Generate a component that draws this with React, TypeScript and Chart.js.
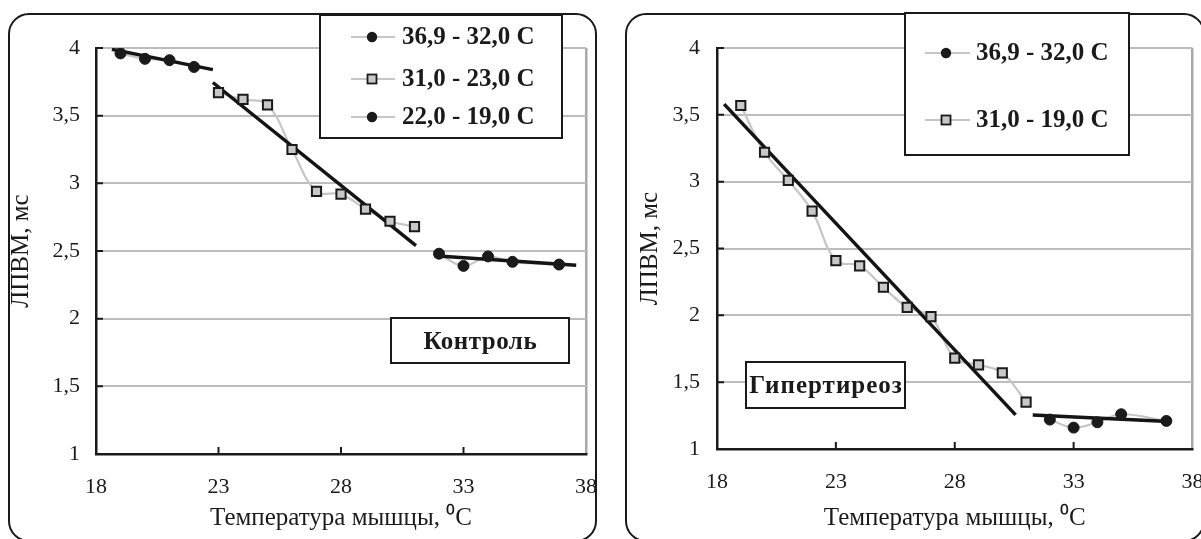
import React, { useEffect, useRef } from 'react';
import { Chart, registerables } from 'chart.js';

Chart.register(...registerables);

// ---------- axes ----------
const xTickValues = [18, 23, 28, 33, 38];
const xTickLabels = ['18', '23', '28', '33', '38'];
const yTickValues = [1, 1.5, 2, 2.5, 3, 3.5, 4];
const yTickLabels = ['1', '1,5', '2', '2,5', '3', '3,5', '4'];
const xTitle = 'Температура мышцы, ⁰C';
const yTitle = 'ЛПВМ, мс';

// ---------- Контроль ----------
const ctrlTag = 'Контроль';
const ctrlHotLabel = '36,9 - 32,0 C';
const ctrlHotX = [32, 33, 34, 35, 36.9];
const ctrlHotY = [2.48, 2.39, 2.46, 2.42, 2.4];
const ctrlMidLabel = '31,0 - 23,0 C';
const ctrlMidX = [23, 24, 25, 26, 27, 28, 29, 30, 31];
const ctrlMidY = [3.67, 3.62, 3.58, 3.25, 2.94, 2.92, 2.81, 2.72, 2.68];
const ctrlColdLabel = '22,0 - 19,0 C';
const ctrlColdX = [19, 20, 21, 22];
const ctrlColdY = [3.96, 3.92, 3.91, 3.86];
const ctrlTrendColdX = [18.65, 22.77];
const ctrlTrendColdY = [3.99, 3.84];
const ctrlTrendMidX = [22.77, 31.06];
const ctrlTrendMidY = [3.745, 2.54];
const ctrlTrendHotX = [31.8, 37.6];
const ctrlTrendHotY = [2.465, 2.395];

// ---------- Гипертиреоз ----------
const hypTag = 'Гипертиреоз';
const hypHotLabel = '36,9 - 32,0 C';
const hypHotX = [32, 33, 34, 35, 36.9];
const hypHotY = [1.22, 1.16, 1.2, 1.26, 1.21];
const hypColdLabel = '31,0 - 19,0 C';
const hypColdX = [19, 20, 21, 22, 23, 24, 25, 26, 27, 28, 29, 30, 31];
const hypColdY = [3.57, 3.22, 3.01, 2.78, 2.41, 2.37, 2.21, 2.06, 1.99, 1.68, 1.63, 1.57, 1.35];
const hypTrendColdX = [18.3, 30.56];
const hypTrendColdY = [3.58, 1.255];
const hypTrendHotX = [31.28, 37.0];
const hypTrendHotY = [1.255, 1.205];

// ---------- styling ----------
const H = 539;
const FONT = '"Liberation Serif", "Times New Roman", serif';
const INK = '#1a1a1a';
const GRID = '#bdbdbd';
const CURVE = '#c6c6c6';
const SQUARE_FILL = '#c8c8c8';

type Marker = 'circle' | 'rect';
type Series = { label: string; xs: number[]; ys: number[]; marker: Marker };
type Trend = { xs: number[]; ys: number[] };
type Box = { x0: number; y0: number; x1: number; y1: number };
type PanelCfg = {
  left: number;
  width: number;
  area: { left: number; top: number; right: number; bottom: number };
  yTickPad: number;
  yTitlePad: number;
  outer: Box & { r: number };
  legend: Box & { rows: number[]; lineX0: number; lineX1: number; markX: number; textX: number };
  legendSeries: Series[];
  series: Series[];
  trends: Trend[];
  tag: Box & { text: string; spacing: number };
};

const toPts = (xs: number[], ys: number[]) => xs.map((x, i) => ({ x, y: ys[i] }));

function buildDatasets(series: Series[], trends: Trend[]) {
  const ds: any[] = [];
  series.forEach((s) => {
    const data = toPts(s.xs, s.ys);
    const rect = s.marker === 'rect';
    ds.push({
      label: s.label,
      data,
      showLine: false,
      pointStyle: s.marker,
      pointRadius: rect ? 6.5 : 5.5,
      pointBackgroundColor: rect ? SQUARE_FILL : INK,
      pointBorderColor: INK,
      pointBorderWidth: rect ? 2 : 1,
      order: 0,
    });
    ds.push({
      label: '',
      data,
      showLine: true,
      borderColor: CURVE,
      borderWidth: 2.2,
      tension: 0.4,
      pointRadius: 0,
      order: 2,
    });
  });
  trends.forEach((t) => {
    ds.push({
      label: '',
      data: toPts(t.xs, t.ys),
      showLine: true,
      borderColor: '#141414',
      borderWidth: 3.5,
      pointRadius: 0,
      tension: 0,
      order: 1,
    });
  });
  return ds;
}

function drawMarker(ctx: CanvasRenderingContext2D, m: Marker, x: number, y: number) {
  ctx.save();
  if (m === 'circle') {
    ctx.fillStyle = INK;
    ctx.beginPath();
    ctx.arc(x, y, 5.2, 0, Math.PI * 2);
    ctx.fill();
  } else {
    ctx.fillStyle = SQUARE_FILL;
    ctx.strokeStyle = INK;
    ctx.lineWidth = 1.8;
    ctx.fillRect(x - 4.5, y - 4.5, 9, 9);
    ctx.strokeRect(x - 4.5, y - 4.5, 9, 9);
  }
  ctx.restore();
}

function decor(p: PanelCfg) {
  return {
    id: 'decor',
    beforeDatasetsDraw(chart: any) {
      const { ctx, chartArea: a, scales } = chart;
      ctx.save();
      ctx.strokeStyle = INK;
      ctx.lineWidth = 2;
      ctx.beginPath();
      xTickValues.forEach((v) => {
        if (v <= 18 || v >= 38) return;
        const px = scales.x.getPixelForValue(v);
        ctx.moveTo(px, a.bottom);
        ctx.lineTo(px, a.bottom - 7);
      });
      yTickValues.forEach((v) => {
        if (v <= 1) return;
        const py = scales.y.getPixelForValue(v);
        ctx.moveTo(a.left, py);
        ctx.lineTo(a.left + 7, py);
      });
      ctx.stroke();
      ctx.restore();
    },
    afterDraw(chart: any) {
      const ctx: CanvasRenderingContext2D = chart.ctx;
      ctx.save();
      // outer rounded frame
      const o = p.outer;
      ctx.strokeStyle = INK;
      ctx.lineWidth = 2;
      ctx.beginPath();
      ctx.roundRect(o.x0, o.y0, o.x1 - o.x0, o.y1 - o.y0, o.r);
      ctx.stroke();

      // legend box
      const L = p.legend;
      ctx.fillStyle = '#ffffff';
      ctx.fillRect(L.x0, L.y0, L.x1 - L.x0, L.y1 - L.y0);
      ctx.strokeStyle = INK;
      ctx.lineWidth = 2;
      ctx.strokeRect(L.x0, L.y0, L.x1 - L.x0, L.y1 - L.y0);
      p.legendSeries.forEach((s, i) => {
        const y = L.rows[i];
        ctx.strokeStyle = CURVE;
        ctx.lineWidth = 2;
        ctx.beginPath();
        ctx.moveTo(L.lineX0, y);
        ctx.lineTo(L.lineX1, y);
        ctx.stroke();
        drawMarker(ctx, s.marker, L.markX, y);
        ctx.fillStyle = INK;
        ctx.font = `bold 25px ${FONT}`;
        ctx.textAlign = 'left';
        ctx.textBaseline = 'middle';
        ctx.fillText(s.label, L.textX, y + 1);
      });

      // tag box
      const T = p.tag;
      ctx.fillStyle = '#ffffff';
      ctx.fillRect(T.x0, T.y0, T.x1 - T.x0, T.y1 - T.y0);
      ctx.strokeStyle = INK;
      ctx.lineWidth = 2;
      ctx.strokeRect(T.x0, T.y0, T.x1 - T.x0, T.y1 - T.y0);
      ctx.fillStyle = INK;
      ctx.font = `bold 25px ${FONT}`;
      (ctx as any).letterSpacing = `${T.spacing}px`;
      ctx.textAlign = 'center';
      ctx.textBaseline = 'middle';
      ctx.fillText(T.text, (T.x0 + T.x1) / 2 + T.spacing / 2, (T.y0 + T.y1) / 2 + 2);
      ctx.restore();
    },
  };
}

function buildConfig(p: PanelCfg): any {
  return {
    type: 'line',
    data: { datasets: buildDatasets(p.series, p.trends) },
    options: {
      animation: false,
      responsive: false,
      devicePixelRatio: 1,
      layout: { padding: { left: 0, top: p.area.top, right: p.width - p.area.right, bottom: 0 } },
      plugins: { legend: { display: false }, tooltip: { enabled: false } },
      scales: {
        x: {
          type: 'linear',
          min: 18,
          max: 38,
          afterBuildTicks: (sc: any) => {
            sc.ticks = xTickValues.map((v) => ({ value: v }));
          },
          afterFit: (sc: any) => {
            sc.height = H - p.area.bottom;
            sc.paddingLeft = 0;
            sc.paddingRight = 0;
          },
          ticks: {
            callback: (_v: any, i: number) => xTickLabels[i],
            font: { family: FONT, size: 22 },
            color: INK,
            padding: 20,
            maxRotation: 0,
            autoSkip: false,
          },
          grid: {
            drawTicks: false,
            color: (c: any) => (c.tick && c.tick.value === 38 ? '#a9a9a9' : 'rgba(0,0,0,0)'),
            lineWidth: 2.5,
          },
          border: { display: true, color: INK, width: 2.5 },
          title: {
            display: true,
            text: xTitle,
            font: { family: FONT, size: 25 },
            color: INK,
            padding: { top: 0, bottom: 6 },
          },
        },
        y: {
          type: 'linear',
          min: 1,
          max: 4,
          afterBuildTicks: (sc: any) => {
            sc.ticks = yTickValues.map((v) => ({ value: v }));
          },
          afterFit: (sc: any) => {
            sc.width = p.area.left;
            sc.paddingTop = 0;
            sc.paddingBottom = 0;
          },
          ticks: {
            callback: (_v: any, i: number) => yTickLabels[i],
            font: { family: FONT, size: 22 },
            color: INK,
            padding: p.yTickPad,
            autoSkip: false,
          },
          grid: {
            drawTicks: false,
            color: (c: any) => (c.tick && c.tick.value === 1 ? 'rgba(0,0,0,0)' : GRID),
            lineWidth: 2,
          },
          border: { display: true, color: INK, width: 2.5 },
          title: {
            display: true,
            text: yTitle,
            font: { family: FONT, size: 25 },
            color: INK,
            padding: { top: p.yTitlePad, bottom: 0 },
          },
        },
      },
    },
    plugins: [decor(p)],
  };
}

const ctrlSeries: Series[] = [
  { label: ctrlHotLabel, xs: ctrlHotX, ys: ctrlHotY, marker: 'circle' },
  { label: ctrlMidLabel, xs: ctrlMidX, ys: ctrlMidY, marker: 'rect' },
  { label: ctrlColdLabel, xs: ctrlColdX, ys: ctrlColdY, marker: 'circle' },
];
const hypSeries: Series[] = [
  { label: hypHotLabel, xs: hypHotX, ys: hypHotY, marker: 'circle' },
  { label: hypColdLabel, xs: hypColdX, ys: hypColdY, marker: 'rect' },
];

const ctrlPanel: PanelCfg = {
  left: 0,
  width: 600,
  area: { left: 96, top: 48, right: 586, bottom: 454 },
  yTickPad: 16,
  yTitlePad: 6,
  outer: { x0: 9, y0: 14, x1: 596, y1: 541, r: 20 },
  legend: { x0: 320, y0: 15, x1: 562, y1: 138, rows: [37, 79, 117], lineX0: 351, lineX1: 395, markX: 372, textX: 402 },
  legendSeries: ctrlSeries,
  series: ctrlSeries,
  trends: [
    { xs: ctrlTrendColdX, ys: ctrlTrendColdY },
    { xs: ctrlTrendMidX, ys: ctrlTrendMidY },
    { xs: ctrlTrendHotX, ys: ctrlTrendHotY },
  ],
  tag: { text: ctrlTag, x0: 391, y0: 318, x1: 569, y1: 363, spacing: 0.5 },
};

const hypPanel: PanelCfg = {
  left: 600,
  width: 601,
  area: { left: 117, top: 48, right: 599, bottom: 449 },
  yTickPad: 17,
  yTitlePad: 35,
  outer: { x0: 26, y0: 14, x1: 604, y1: 541, r: 20 },
  legend: { x0: 305, y0: 13, x1: 529, y1: 155, rows: [53, 120], lineX0: 325, lineX1: 370, markX: 346, textX: 376 },
  legendSeries: hypSeries,
  series: hypSeries,
  trends: [
    { xs: hypTrendColdX, ys: hypTrendColdY },
    { xs: hypTrendHotX, ys: hypTrendHotY },
  ],
  tag: { text: hypTag, x0: 146, y0: 362, x1: 305, y1: 408, spacing: 1 },
};

function Panel({ cfg }: { cfg: PanelCfg }) {
  const ref = useRef<HTMLCanvasElement>(null);
  useEffect(() => {
    const chart = new Chart(ref.current as HTMLCanvasElement, buildConfig(cfg));
    return () => chart.destroy();
  }, [cfg]);
  return (
    <canvas
      ref={ref}
      width={cfg.width}
      height={H}
      style={{ position: 'absolute', left: cfg.left, top: 0, width: cfg.width, height: H }}
    />
  );
}

export default function App() {
  return (
    <div style={{ position: 'absolute', left: 0, top: 0, width: 1201, height: H, background: '#ffffff', overflow: 'hidden' }}>
      <Panel cfg={ctrlPanel} />
      <Panel cfg={hypPanel} />
    </div>
  );
}
